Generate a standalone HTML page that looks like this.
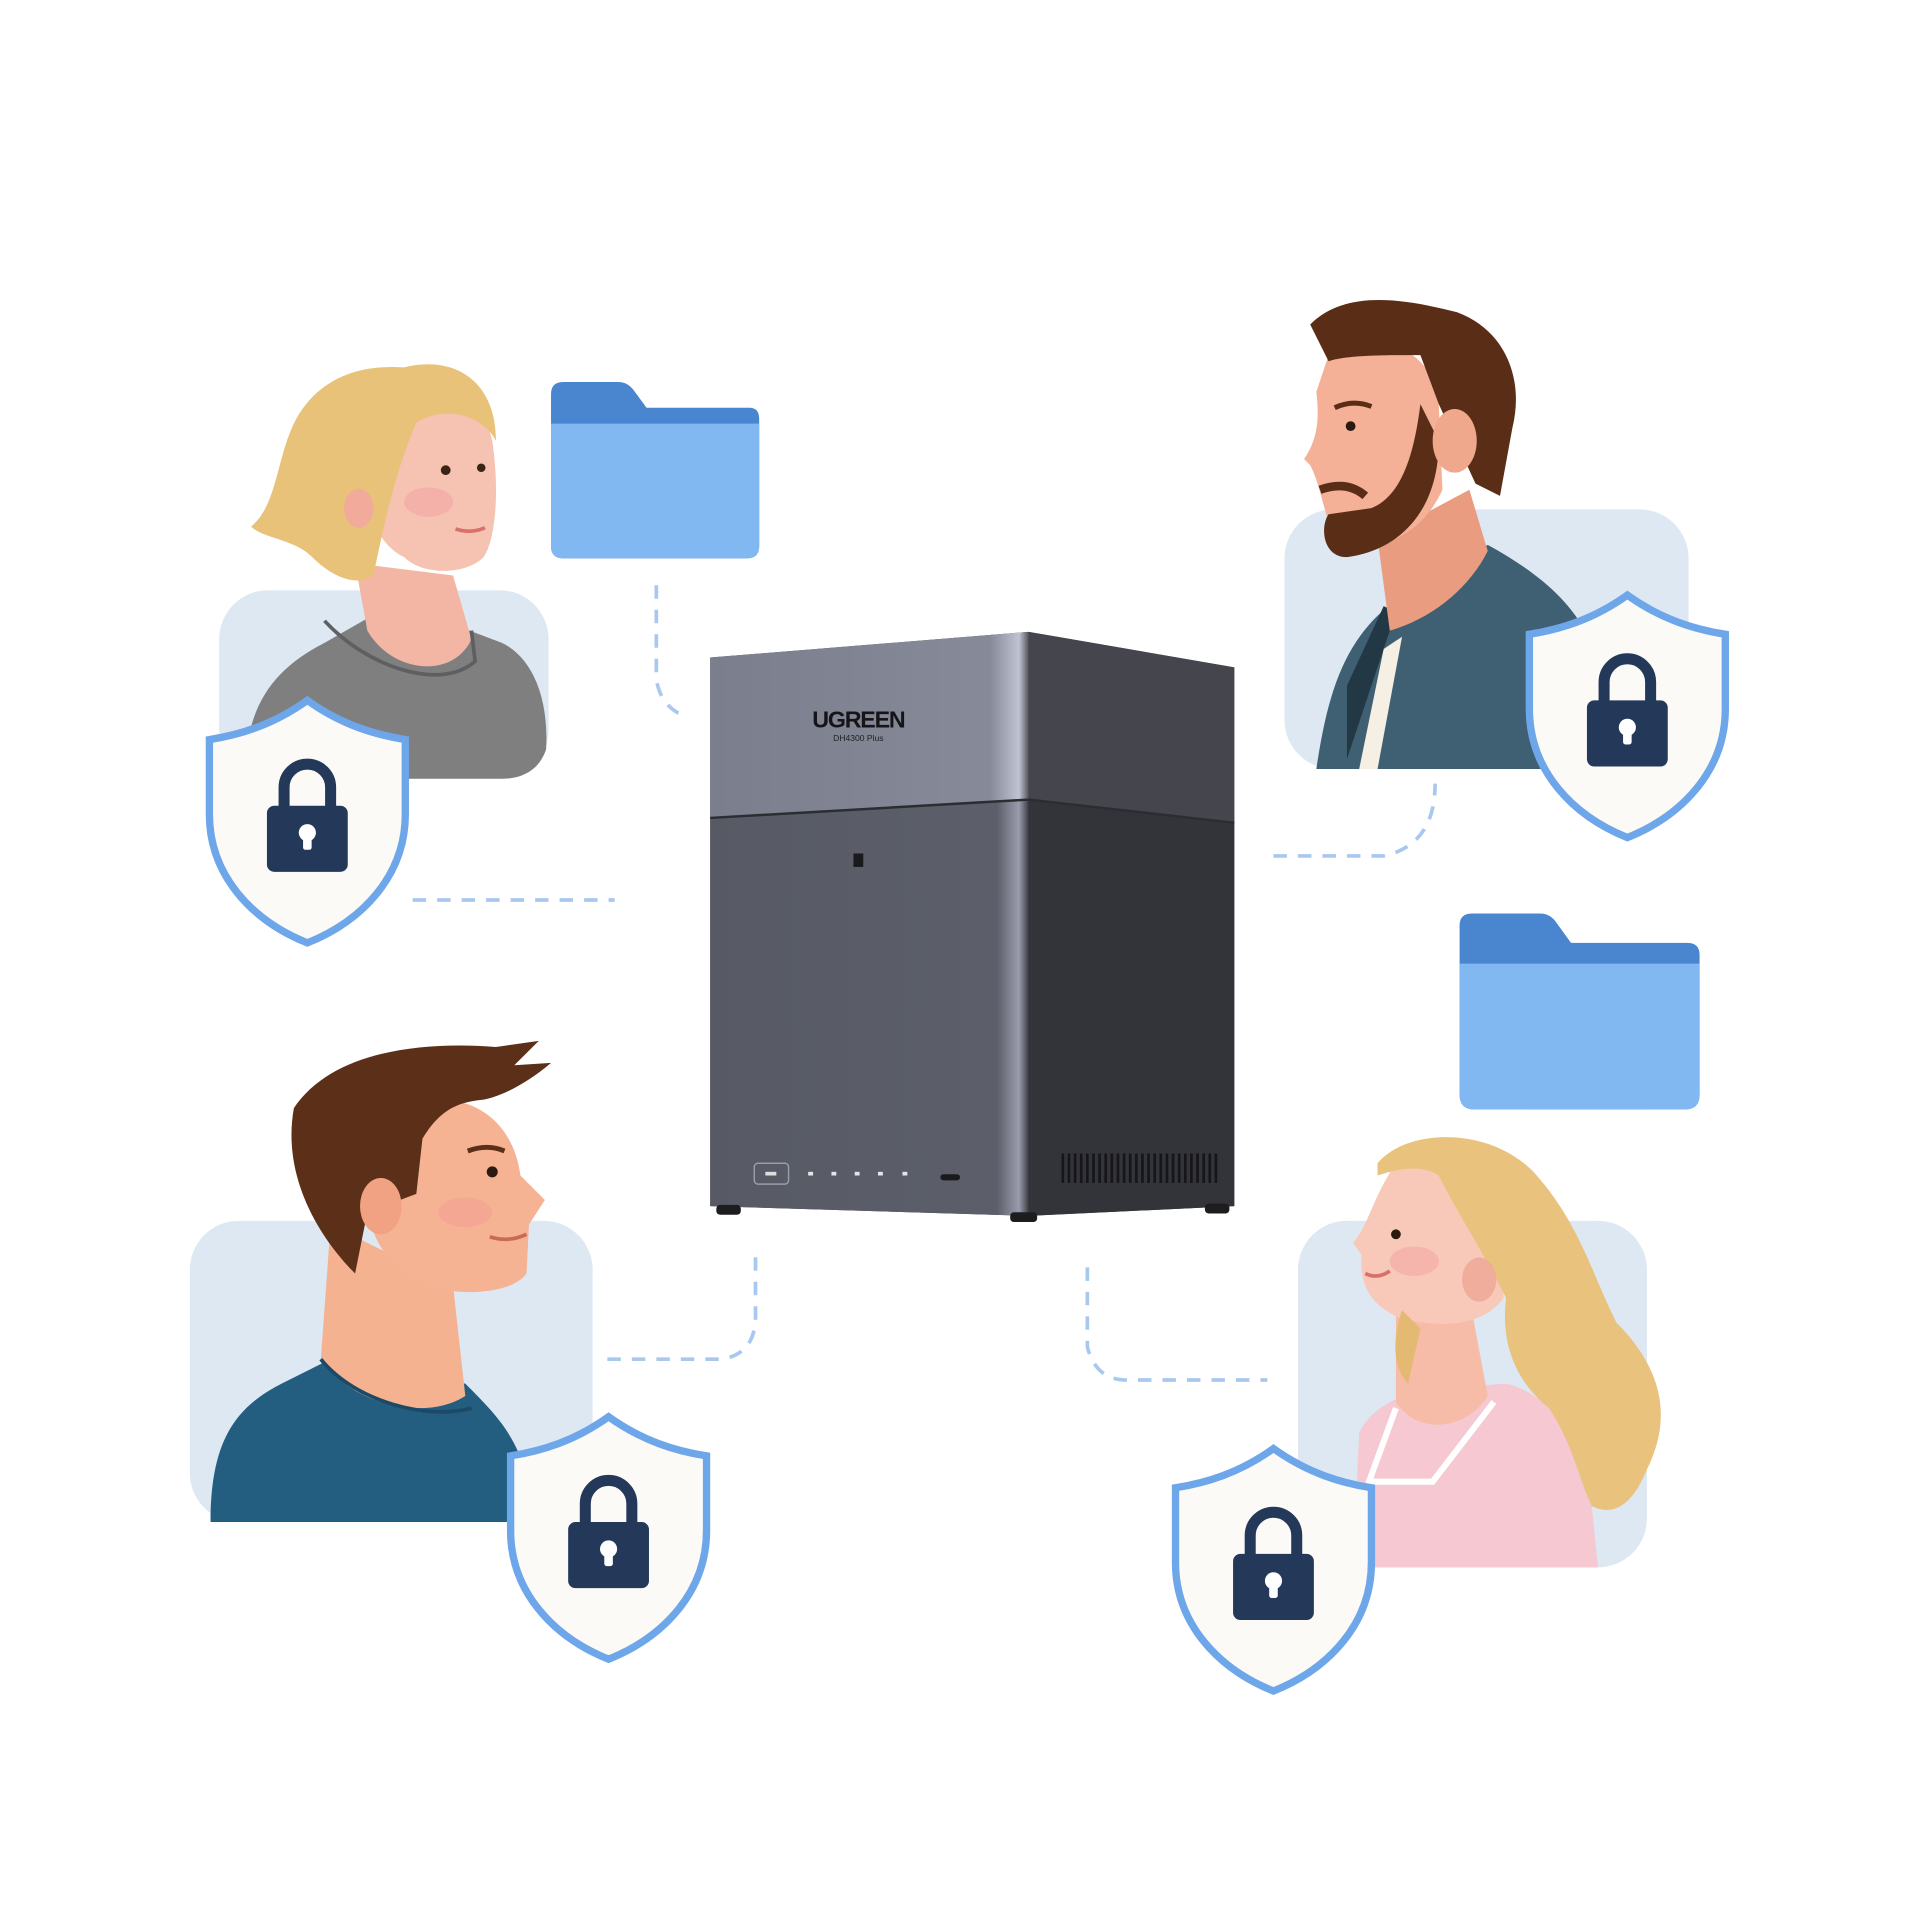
<!DOCTYPE html>
<html><head><meta charset="utf-8"><style>html,body{margin:0;padding:0;background:#fff}svg{display:block}</style></head>
<body>
<svg width="1920" height="1920" viewBox="0 0 1568 1568" xmlns="http://www.w3.org/2000/svg">
<defs>
<g id="shield">
<path d="M0,-98 C28,-78 55,-70 80,-66 L80,-5 C80,45 45,82 0,100 C-45,82 -80,45 -80,-5 L-80,-66 C-55,-70 -28,-78 0,-98 Z" fill="#fbfaf6" stroke="#6ea6ea" stroke-width="6"/>
<path d="M-19,-10 V-27 A19,19 0 0 1 19,-27 V-10" fill="none" stroke="#24385a" stroke-width="9"/>
<rect x="-33" y="-12" width="66" height="54" rx="6" fill="#24385a"/>
<circle cx="0" cy="10" r="7" fill="#fff"/><rect x="-3.5" y="10" width="7" height="14" rx="2" fill="#fff"/>
</g>
<linearGradient id="fr" x1="0" x2="1"><stop offset="0" stop-color="#575a64"/><stop offset="0.9" stop-color="#5c5f6a"/><stop offset="0.97" stop-color="#9a9cac"/><stop offset="1" stop-color="#3c3d44"/></linearGradient>
<linearGradient id="ft" x1="0" x2="1"><stop offset="0" stop-color="#7b7e8c"/><stop offset="0.88" stop-color="#868a99"/><stop offset="0.97" stop-color="#c0c3d2"/><stop offset="1" stop-color="#55575f"/></linearGradient>
</defs>
<rect width="1568" height="1568" fill="#fff"/>
<g fill="none" stroke="#a9c8ef" stroke-width="3" stroke-dasharray="11 9">
<path d="M536,478 V555 Q540,578 560,585"/>
<path d="M337,735 H502"/>
<path d="M1040,699 H1130 Q1172,690 1172,640"/>
<path d="M496,1110 H590 Q617,1105 617,1075 V1025"/>
<path d="M888,1035 V1100 Q895,1127 920,1127 H1035"/>
</g>
<!-- woman 1 -->
<rect x="179" y="482" width="269" height="154" rx="40" fill="#dde8f3"/>
<path d="M200,636 C200,580 220,548 265,525 L300,505 L370,510 L410,525 C440,540 448,580 446,612 C440,630 425,636 410,636 Z" fill="#7f7f80"/>
<path d="M290,460 L300,515 C320,550 370,555 385,522 L370,470 Z" fill="#f3b6a4"/>
<path d="M265,507 C300,545 360,565 388,540 L385,515" fill="none" stroke="#5e5f60" stroke-width="3"/>
<path d="M310,330 C340,310 395,320 402,360 C408,400 405,440 395,455 C380,470 345,470 330,455 C300,440 290,395 310,330 Z" fill="#f6c3b2"/>
<path d="M330,300 C370,290 405,310 405,360 C395,340 365,330 340,345 C325,380 315,420 305,470 C290,480 270,470 255,455 C240,440 215,440 205,430 C230,410 225,360 250,330 C270,305 300,298 330,300 Z" fill="#e9c27a"/>
<ellipse cx="293" cy="415" rx="12" ry="16" fill="#f2aa9b"/>
<circle cx="364" cy="384" r="4" fill="#3a2418"/><circle cx="393" cy="382" r="3.5" fill="#3a2418"/>
<ellipse cx="350" cy="410" rx="20" ry="12" fill="#f2a0a0" opacity=".5"/>
<path d="M372,432 Q385,436 396,431" fill="none" stroke="#d9706a" stroke-width="3"/>
<use href="#shield" x="251" y="670"/>
<!-- folder 1 -->
<path d="M450,322 Q450,312 460,312 H505 Q512,312 517,318 L528,333 H612 Q620,333 620,342 V446 Q620,456 610,456 H460 Q450,456 450,446 Z" fill="#4a86cf"/>
<path d="M450,346 H620 V446 Q620,456 610,456 H460 Q450,456 450,446 Z" fill="#82b8f2"/>
<!-- man beard -->
<rect x="1049" y="416" width="330" height="212" rx="40" fill="#dde8f3"/>
<path d="M1075,628 C1085,560 1100,520 1140,490 L1215,445 C1260,470 1300,500 1310,560 L1300,628 Z" fill="#3f6072"/>
<path d="M1110,628 L1130,530 L1145,520 L1125,628 Z" fill="#f5efe4"/>
<path d="M1100,620 L1140,500 L1130,495 L1100,560 Z" fill="#233845"/>
<path d="M1125,440 L1135,515 C1170,505 1200,480 1215,450 L1200,400 Z" fill="#e99c80"/>
<path d="M1085,290 C1120,270 1170,280 1175,330 L1178,400 C1160,440 1120,455 1090,440 C1080,415 1078,395 1070,380 L1065,375 C1075,360 1078,345 1075,320 Z" fill="#f5b197"/>
<path d="M1070,265 C1100,235 1150,245 1190,255 C1230,270 1245,310 1235,350 L1225,405 L1205,395 L1175,330 L1160,290 C1130,290 1100,290 1085,295 L1070,265 Z" fill="#5a2d16"/>
<path d="M1160,330 L1175,360 C1175,420 1140,450 1100,455 C1080,455 1078,430 1085,420 L1120,415 C1145,405 1155,370 1160,330 Z" fill="#5a2d16"/>
<path d="M1078,400 Q1100,392 1115,405" stroke="#5a2d16" stroke-width="7" fill="none"/>
<ellipse cx="1188" cy="360" rx="18" ry="26" fill="#f0a88d"/>
<circle cx="1103" cy="348" r="4" fill="#2a1a10"/>
<path d="M1090,333 Q1105,326 1120,332" stroke="#5a2d16" stroke-width="4" fill="none"/>
<use href="#shield" x="1329" y="584"/>
<!-- folder 2 -->
<path d="M1192,756 Q1192,746 1202,746 H1258 Q1265,746 1270,752 L1283,770 H1378 Q1388,770 1388,780 V894 Q1388,906 1376,906 H1204 Q1192,906 1192,894 Z" fill="#4a86cf"/>
<path d="M1192,787 H1388 V894 Q1388,906 1376,906 H1204 Q1192,906 1192,894 Z" fill="#82b8f2"/>
<!-- NAS -->
<path d="M580,537 L840,516 L1008,545 L1008,985 L840,993 L580,985 Z" fill="#3a3b41"/>
<path d="M580,537 L840,516 L840,653 L580,668 Z" fill="url(#ft)"/>
<path d="M580,668 L840,653 L840,993 L580,985 Z" fill="url(#fr)"/>
<path d="M840,516 L1008,545 L1008,672 L840,653 Z" fill="#45464d"/>
<path d="M840,653 L1008,672 L1008,985 L840,993 Z" fill="#33343a"/>
<path d="M580,668 L840,653 L1008,672" fill="none" stroke="#2c2d33" stroke-width="2"/>
<text x="701" y="594" font-family="Liberation Sans, sans-serif" font-weight="bold" font-size="19" fill="#151518" text-anchor="middle" letter-spacing="-1">UGREEN</text>
<text x="701" y="605" font-family="Liberation Sans, sans-serif" font-size="7" fill="#222" text-anchor="middle">DH4300 Plus</text>
<rect x="697" y="697" width="8" height="11" fill="#1a1a1d"/>
<rect x="616" y="950" width="28" height="17" rx="3" fill="none" stroke="#9a9ca6" stroke-width="1.2"/>
<rect x="625" y="957" width="9" height="3" fill="#ddd"/>
<g fill="#e5e5e5"><rect x="660" y="957" width="4" height="3"/><rect x="679" y="957" width="4" height="3"/><rect x="698" y="957" width="4" height="3"/><rect x="717" y="957" width="4" height="3"/><rect x="737" y="957" width="4" height="3"/></g>
<rect x="768" y="959" width="16" height="5" rx="2.5" fill="#1a1a1d"/>
<g stroke="#16161a" stroke-width="2.2"><path d="M868,942V966M873,942V966M878,942V966M883,942V966M888,942V966M893,942V966M898,942V966M903,942V966M908,942V966M913,942V966M918,942V966M923,942V966M928,942V966M933,942V966M938,942V966M943,942V966M948,942V966M953,942V966M958,942V966M963,942V966M968,942V966M973,942V966M978,942V966M983,942V966M988,942V966M993,942V966"/></g>
<rect x="585" y="984" width="20" height="8" rx="3" fill="#1d1d20"/><rect x="825" y="990" width="22" height="8" rx="3" fill="#1d1d20"/><rect x="984" y="983" width="20" height="8" rx="3" fill="#1d1d20"/>
<!-- man 2 -->
<rect x="155" y="997" width="329" height="246" rx="40" fill="#dde8f3"/>
<path d="M172,1243 C172,1180 190,1150 230,1130 L270,1110 L380,1130 C400,1150 415,1165 425,1190 L425,1243 Z" fill="#235e80"/>
<path d="M270,1000 L262,1110 C290,1150 350,1160 380,1140 L370,1050 Z" fill="#f5b291"/>
<path d="M262,1110 C290,1145 350,1160 385,1150" fill="none" stroke="#1c4a66" stroke-width="3"/>
<path d="M340,900 C390,890 420,920 425,960 L445,980 L432,1000 L430,1040 C420,1055 380,1060 350,1050 C320,1040 300,1010 300,980 Z" fill="#f6b394"/>
<path d="M240,905 C270,860 340,850 405,855 L440,850 L420,870 L450,868 C430,885 410,895 395,898 C375,900 360,905 345,930 L340,975 L300,990 L290,1040 C260,1010 230,960 240,905 Z" fill="#5b2f18"/>
<ellipse cx="311" cy="985" rx="17" ry="23" fill="#f0a283"/>
<circle cx="402" cy="957" r="4.5" fill="#2a1a10"/>
<path d="M382,940 Q398,934 412,940" stroke="#5b2f18" stroke-width="4" fill="none"/>
<ellipse cx="380" cy="990" rx="22" ry="12" fill="#f29a92" opacity=".45"/>
<path d="M400,1010 Q415,1015 430,1008" fill="none" stroke="#c86a58" stroke-width="3"/>
<use href="#shield" x="497" y="1255"/>
<!-- woman 2 -->
<rect x="1060" y="997" width="285" height="283" rx="40" fill="#dde8f3"/>
<path d="M1105,1280 L1110,1170 C1120,1150 1140,1140 1165,1135 L1230,1130 C1270,1140 1295,1180 1300,1230 L1305,1280 Z" fill="#f5c8d2"/>
<path d="M1140,1050 L1140,1145 C1160,1175 1200,1165 1215,1140 L1200,1060 Z" fill="#f6bca7"/>
<path d="M1140,1150 L1118,1210 L1170,1210 L1220,1145" fill="none" stroke="#fff" stroke-width="5"/>
<path d="M1140,950 C1180,935 1220,950 1225,1000 L1228,1060 C1210,1085 1170,1085 1140,1075 C1120,1065 1110,1050 1112,1025 L1105,1015 C1118,1000 1120,980 1140,950 Z" fill="#f8c8b8"/>
<path d="M1125,950 C1150,920 1220,920 1255,960 C1290,1000 1300,1040 1320,1080 C1350,1110 1370,1150 1345,1200 C1335,1225 1320,1240 1300,1230 C1290,1210 1285,1180 1265,1150 C1240,1130 1225,1100 1230,1060 C1210,1020 1190,990 1175,960 C1160,950 1140,955 1125,960 Z" fill="#e9c27d"/>
<path d="M1145,1070 C1135,1100 1140,1120 1150,1130 L1160,1085 Z" fill="#e4ba72"/>
<ellipse cx="1208" cy="1045" rx="14" ry="18" fill="#f1ad9b"/>
<circle cx="1140" cy="1008" r="4" fill="#2a1a10"/>
<ellipse cx="1155" cy="1030" rx="20" ry="12" fill="#f2a0a0" opacity=".5"/>
<path d="M1115,1040 Q1125,1045 1135,1038" fill="none" stroke="#d9706a" stroke-width="3"/>
<use href="#shield" x="1040" y="1281"/>
</svg>
</body></html>
